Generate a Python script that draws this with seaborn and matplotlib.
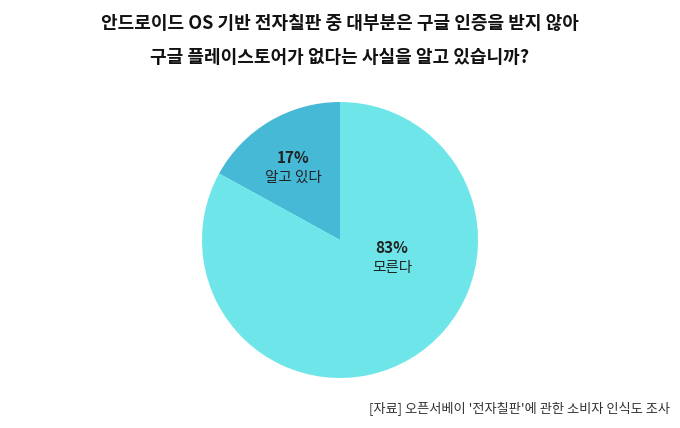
import matplotlib
matplotlib.use("Agg")
import matplotlib.pyplot as plt
import seaborn as sns

labels = ["알고 있다", "모른다"]
values = [17, 83]
colors = ["#45b9d6", "#6ee6e9"]

sns.set_theme(style="white")
plt.rcParams['font.family'] = ['Noto Sans CJK KR', 'DejaVu Sans']

fig = plt.figure(figsize=(6.8, 4.28), dpi=100)
fig.patch.set_facecolor("white")
ax = fig.add_axes([(340-138)/680, (188-138)/428, 276/680, 276/428])
ax.pie(values, colors=colors, startangle=90, counterclock=True,
       wedgeprops=dict(linewidth=0))
ax.set_aspect("equal")
ax.set_xlim(-1, 1); ax.set_ylim(-1, 1)

# label positions (layout) in data units
pos = [(-47/138, 72/138), (52/138, -18/138)]
for (x, y), lab, v in zip(pos, labels, values):
    ax.text(x, y + 0.075, f"{v}%", ha="center", va="center", fontsize=11, fontweight="bold", color="#222222")
    ax.text(x, y - 0.075, lab, ha="center", va="center", fontsize=10.5, color="#222222")

fig.text(0.5, 0.905, "안드로이드 OS 기반 전자칠판 중 대부분은 구글 인증을 받지 않아\n구글 플레이스토어가 없다는 사실을 알고 있습니까?",
         ha="center", va="center", fontsize=13, fontweight="bold", color="#111111", linespacing=2.0)
fig.text(0.985, 0.045, "[자료] 오픈서베이 '전자칠판'에 관한 소비자 인식도 조사",
         ha="right", va="center", fontsize=9.5, color="#333333")
fig.savefig("out.png", dpi=100)
